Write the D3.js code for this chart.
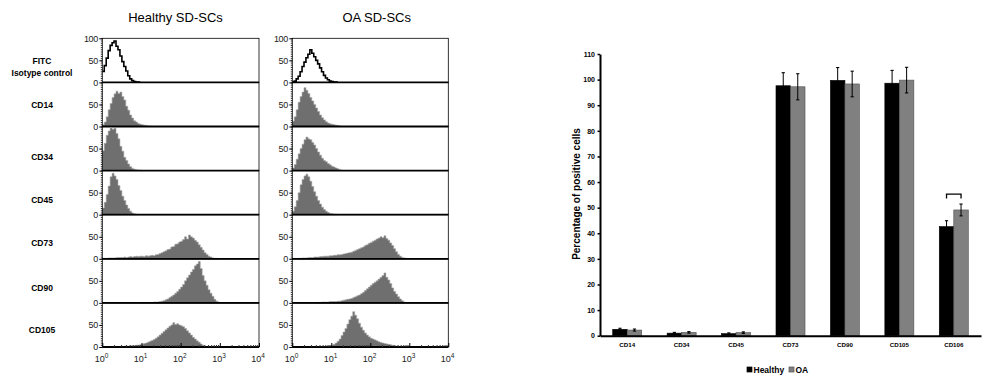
<!DOCTYPE html>
<html>
<head>
<meta charset="utf-8">
<script src="https://cdnjs.cloudflare.com/ajax/libs/d3/7.8.5/d3.min.js"></script>
<style>
  body { margin: 0; background: #fff; }
  svg { display: block; font-family: Arial, "Liberation Sans", sans-serif; }
</style>
</head>
<body>
<svg id="fig" width="984" height="379"></svg>
<script>
// ---- flow cytometry histograms (counts per bin, 20 bins per decade) ----
const rowLabels = [["FITC", "Isotype control"], ["CD14"], ["CD34"], ["CD45"], ["CD73"], ["CD90"], ["CD105"]];
const binsPerDecade = 20;

const hFITC = [25, 38, 55, 72, 84, 90, 94, 82, 74, 60, 47, 36, 26, 15, 8, 4, 2, 1, 1];
const hCD14 = [4, 10, 22, 38, 52, 66, 74, 80, 75, 78, 68, 60, 46, 37, 26, 19, 13, 10, 7, 5, 4, 3, 2, 1, 1];
const hCD34 = [45, 62, 80, 90, 97, 94, 96, 84, 72, 55, 44, 30, 23, 15, 9, 5, 3, 2, 1, 1];
const hCD45 = [15, 28, 46, 65, 86, 94, 88, 80, 66, 55, 42, 32, 22, 14, 8, 4, 2, 1];
const hCD73 = [1, 1, 1, 2, 2, 2, 2, 3, 3, 3, 3, 4, 3, 4, 5, 4, 5, 6, 5, 6, 6, 5, 7, 6, 7,
  8, 7, 9, 10, 12, 14, 16, 18, 21, 22, 27, 28, 33, 34, 38, 40, 44, 50, 45, 54,
  50, 47, 42, 38, 32, 26, 20, 14, 10, 6, 4, 2, 1, 1];
const hCD90 = [1, 1, 1, 1, 1, 1, 2, 2, 2, 3, 4, 5, 7, 9, 12, 15, 18, 22, 26, 31,
  36, 42, 50, 57, 63, 70, 76, 84, 88, 94, 78, 62, 50, 40, 30, 22, 15, 8, 4, 2, 1, 1];
const hCD105 = [1, 1, 1, 1, 1, 1, 2, 2, 2, 3, 3, 3, 4, 4, 5, 6, 8, 9, 11, 13,
  15, 17, 20, 23, 27, 31, 35, 39, 43, 47, 50, 55, 51, 53, 50, 48, 46, 42, 37, 32,
  27, 22, 18, 14, 11, 7, 4, 2, 1, 1];
const healthyHists = [hFITC, hCD14, hCD34, hCD45, hCD73, hCD90, hCD105];
const healthyStart = [0, 0, 0, 0, 0, 20, 5];

const oFITC = [1, 3, 8, 14, 24, 36, 46, 56, 64, 74, 66, 58, 50, 42, 33, 24, 16, 10, 6, 3, 2, 1, 1];
const oCD14 = [12, 22, 38, 55, 68, 78, 88, 82, 75, 66, 58, 50, 42, 34, 26, 20, 15, 11, 8, 6, 5, 4, 3, 2, 1];
const oCD34 = [6, 14, 26, 38, 50, 60, 70, 76, 72, 70, 64, 58, 50, 42, 35, 28, 23, 20, 16, 13, 10, 8, 6, 4, 2, 1];
const oCD45 = [8, 18, 32, 50, 68, 80, 88, 92, 86, 76, 64, 52, 42, 32, 24, 17, 12, 8, 5, 3, 2, 1, 1];
const oCD73 = [1, 1, 2, 2, 2, 3, 3, 3, 4, 4, 4, 5, 5, 6, 6, 6, 7, 7, 8, 8, 9, 9,
  10, 11, 12, 13, 14, 15, 17, 19, 21, 23, 25, 27, 30, 32, 35, 37, 40, 42, 45, 47,
  50, 48, 52, 46, 42, 36, 30, 23, 16, 10, 6, 3, 2, 1];
const oCD90 = [1, 1, 1, 2, 2, 2, 2, 3, 3, 3, 3, 4, 4, 5, 6, 7, 8, 9, 10, 12, 14, 16, 18,
  21, 24, 28, 32, 36, 40, 44, 47, 50, 54, 58, 62, 68, 58, 52, 44, 34, 26, 20, 14, 9, 5, 2, 1];
const oCD105 = [1, 1, 1, 2, 3, 4, 6, 9, 13, 18, 26, 34, 42, 52, 62, 70, 80, 72, 64, 54,
  45, 38, 32, 27, 23, 20, 18, 16, 14, 12, 10, 9, 8, 7, 6, 5, 4, 3, 2, 2, 1, 1];
const oaHists = [oFITC, oCD14, oCD34, oCD45, oCD73, oCD90, oCD105];
const oaStart = [0, 0, 0, 0, 3, 12, 15];

// ---- percentage of positive cells ----
const markers = ["CD14", "CD34", "CD45", "CD73", "CD90", "CD105", "CD106"];
const groups = ["Healthy", "OA"];
const healthyPct = [2.5, 1.0, 0.8, 97.6, 99.7, 98.6, 42.6];
const healthyErr = [0.4, 0.3, 0.3, 5.1, 5.0, 5.0, 2.3];
const oaPct = [2.2, 1.3, 1.2, 97.2, 98.3, 99.8, 49.1];
const oaErr = [0.4, 0.3, 0.3, 5.1, 5.0, 5.0, 2.3];
const yTicks = [0, 10, 20, 30, 40, 50, 60, 70, 80, 90, 100, 110];
const sigMarker = "CD106";
const sigLevel = 55.3;

const svg = d3.select("#fig");
const FONT = "Arial, 'Liberation Sans', sans-serif";

// ================= left: histogram grid =================
const rowTop = 38.3, rowH = 44.1;
const labelY = [61, 105, 157, 200, 243, 288, 330];

rowLabels.forEach((lines, i) => {
  const t = svg.append("text")
    .attr("x", 42).attr("text-anchor", "middle")
    .attr("font-size", 8.5).attr("font-weight", "bold");
  lines.forEach((s, j) => {
    t.append("tspan").attr("x", 42)
      .attr("y", labelY[i] + 3 + j * 12).text(s);
  });
});

function drawPanel(x0, x1, hists, starts, title, titleX) {
  const x = d3.scaleLog().domain([1, 1e4]).range([x0, x1]);
  const g = svg.append("g");

  g.append("text").attr("x", titleX).attr("y", 21.5)
    .attr("text-anchor", "middle").attr("font-size", 13).text(title);

  hists.forEach((counts, i) => {
    const top = rowTop + i * rowH, bot = top + rowH;
    const y = d3.scaleLinear().domain([0, 100]).range([bot, top]);
    const pts = counts.map((c, j) => ({ e: Math.pow(10, (starts[i] + j) / binsPerDecade), c }));
    pts.push({ e: Math.pow(10, (starts[i] + counts.length) / binsPerDecade), c: 0 });

    if (i === 0) {
      g.append("path").datum(pts)
        .attr("fill", "none").attr("stroke", "#000").attr("stroke-width", 1.6)
        .attr("d", d3.line().curve(d3.curveStepAfter).x(d => x(d.e)).y(d => y(d.c)));
    } else {
      g.append("path").datum(pts)
        .attr("fill", "#6f6f6f").attr("stroke", "#a6a6a6").attr("stroke-width", 0.6)
        .attr("d", d3.area().curve(d3.curveStepAfter)
          .x(d => x(d.e)).y0(bot).y1(d => y(d.c)));
    }

    // left axis: minor then labelled ticks
    g.append("g").attr("transform", `translate(${x0},0)`)
      .call(d3.axisLeft(y).tickValues(d3.range(0, 101, 5)).tickSize(1.5).tickFormat(""))
      .call(a => a.select(".domain").remove())
      .selectAll("line").attr("stroke", "#333");
    const ya = g.append("g").attr("transform", `translate(${x0},0)`)
      .call(d3.axisLeft(y).tickValues(i === 0 ? [0, 50, 100] : [0, 50])
        .tickSize(3).tickPadding(1.5).tickFormat(d3.format("d")));
    ya.select(".domain").remove();
    ya.attr("font-size", 9);
    ya.selectAll("text").attr("fill", "#222").attr("font-family", FONT)
      .attr("letter-spacing", "-0.4");

    // frame
    g.append("rect").attr("x", x0).attr("y", top).attr("width", x1 - x0).attr("height", rowH)
      .attr("fill", "none").attr("stroke", "#000").attr("stroke-width", 0.8);
    g.append("line").attr("x1", x0).attr("x2", x1).attr("y1", bot).attr("y2", bot)
      .attr("stroke", "#000").attr("stroke-width", 1.8);
  });

  // log x axis
  const base = rowTop + rowH * hists.length;
  const minor = [];
  for (let d = 0; d < 4; d++) for (let m = 2; m <= 9; m++) minor.push(m * Math.pow(10, d));
  g.append("g").attr("transform", `translate(0,${base})`)
    .call(d3.axisBottom(x).tickValues(minor).tickSize(-2).tickFormat(""))
    .call(a => a.select(".domain").remove())
    .selectAll("line").attr("stroke", "#333");
  const xa = g.append("g").attr("transform", `translate(0,${base})`)
    .call(d3.axisBottom(x).tickValues([1, 10, 100, 1000, 10000]).tickSize(-4).tickPadding(6).tickFormat(""));
  xa.select(".domain").remove();
  xa.attr("font-size", 9);
  xa.selectAll(".tick text").each(function (d) {
    const t = d3.select(this).attr("fill", "#222").attr("font-family", FONT)
      .attr("dx", "-0.15em").attr("y", 9);
    t.append("tspan").text("10");
    t.append("tspan").attr("font-size", 6.5).attr("dy", "-0.6em").text(Math.round(Math.log10(d)));
  });
}

drawPanel(102.3, 259, healthyHists, healthyStart, "Healthy SD-SCs", 175.5);
drawPanel(292.3, 448.3, oaHists, oaStart, "OA SD-SCs", 376.7);

// ================= right: bar chart =================
const xb = d3.scaleBand().domain(markers).range([600, 981]).paddingInner(0.467).paddingOuter(0.2335);
const xs = d3.scaleBand().domain(groups).range([0, xb.bandwidth()]);
const yb = d3.scaleLinear().domain([0, 110]).range([335.7, 54]);
const bc = svg.append("g");

const series = [
  { name: "Healthy", pct: healthyPct, err: healthyErr, fill: "#000", stroke: "#000" },
  { name: "OA", pct: oaPct, err: oaErr, fill: "#808080", stroke: "#505050" }
];

series.forEach(s => {
  markers.forEach((m, i) => {
    const bx = xb(m) + xs(s.name), bw = xs.bandwidth();
    bc.append("rect").attr("x", bx).attr("y", yb(s.pct[i]))
      .attr("width", bw).attr("height", yb(0) - yb(s.pct[i]))
      .attr("fill", s.fill).attr("stroke", s.stroke).attr("stroke-width", 0.6);
    const cx = bx + bw / 2;
    const lo = yb(s.pct[i] - s.err[i]), hi = yb(s.pct[i] + s.err[i]);
    bc.append("line").attr("x1", cx).attr("x2", cx).attr("y1", lo).attr("y2", hi)
      .attr("stroke", "#000").attr("stroke-width", 1);
    [lo, hi].forEach(yy => bc.append("line").attr("x1", cx - 1.6).attr("x2", cx + 1.6)
      .attr("y1", yy).attr("y2", yy).attr("stroke", "#000").attr("stroke-width", 1.1));
  });
});

// significance bracket
{
  const a = xb(sigMarker) + xs("Healthy") + xs.bandwidth() / 2;
  const b = xb(sigMarker) + xs("OA") + xs.bandwidth() / 2;
  const yTop = yb(sigLevel), yLeg = yb(sigLevel - 1.7);
  bc.append("path").attr("d", `M${a},${yLeg}V${yTop}H${b}V${yLeg}`)
    .attr("fill", "none").attr("stroke", "#000").attr("stroke-width", 1.3);
}

// axes
const yax = bc.append("g").attr("transform", "translate(600,0)")
  .call(d3.axisLeft(yb).tickValues(yTicks).tickSize(2.5).tickPadding(2.5).tickSizeOuter(0));
yax.select(".domain").attr("stroke-width", 2);
yax.selectAll("line").attr("stroke-width", 1.5);
yax.attr("font-size", 7).attr("font-weight", "bold").attr("font-family", FONT);

const xax = bc.append("g").attr("transform", `translate(0,${yb(0)})`)
  .call(d3.axisBottom(xb).tickSize(0).tickPadding(7).tickSizeOuter(0));
xax.select(".domain").attr("stroke-width", 2);
xax.attr("font-size", 6.2).attr("font-weight", "bold").attr("font-family", FONT);

bc.append("text").attr("transform", "translate(580,194) rotate(-90)")
  .attr("text-anchor", "middle").attr("font-size", 10).attr("font-weight", "bold")
  .text("Percentage of positive cells");

// legend
const lg = bc.append("g").attr("transform", "translate(747,370)");
series.forEach((s, i) => {
  const lx = i === 0 ? 0 : 42;
  lg.append("rect").attr("x", lx).attr("y", -3).attr("width", 5).attr("height", 5)
    .attr("fill", s.fill).attr("stroke", s.stroke).attr("stroke-width", 0.7);
  lg.append("text").attr("x", lx + 6.5).attr("y", 3).attr("font-size", 8.5)
    .attr("font-weight", "bold").text(s.name);
});
</script>
</body>
</html>
